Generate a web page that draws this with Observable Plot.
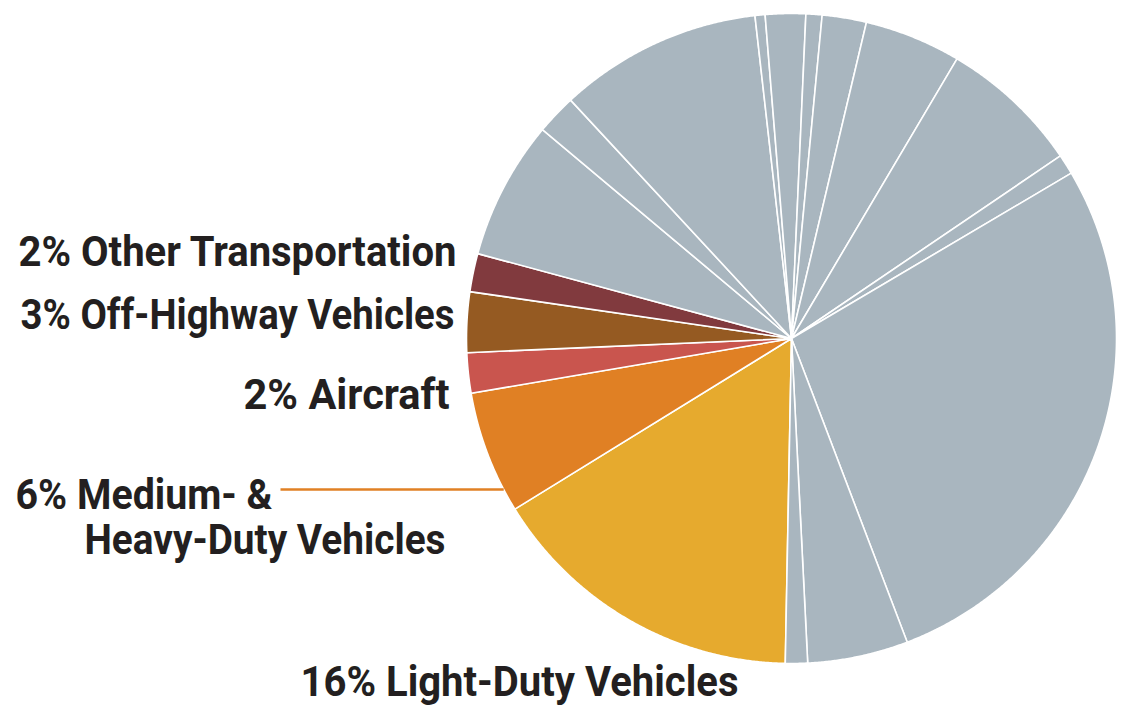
<!DOCTYPE html>
<html>
<head>
<meta charset="utf-8">
<script src="https://cdn.jsdelivr.net/npm/d3@7"></script>
<script src="https://cdn.jsdelivr.net/npm/@observablehq/plot@0.6"></script>
<style>
  html, body { margin: 0; padding: 0; background: #ffffff; }
</style>
</head>
<body>
<div id="chart"></div>
<script>
// ---- Data (clockwise, starting with Light-Duty Vehicles) ----
const sectors = [
  "Light-Duty Vehicles", "Medium- & Heavy-Duty Vehicles", "Aircraft",
  "Off-Highway Vehicles", "Other Transportation",
  "Other sector 1", "Other sector 2", "Other sector 3", "Other sector 4",
  "Other sector 5", "Other sector 6", "Other sector 7", "Other sector 8",
  "Other sector 9", "Other sector 10", "Other sector 11", "Other sector 12",
  "Other sector 13"
];
const shares = [
  15.9, 6.1, 2.0, 3.0, 1.9,
  6.9, 2.0, 10.1, 0.5, 2.0, 0.8, 2.2, 4.8, 7.0, 1.0, 27.7, 5.0, 1.1
];
const sliceColors = [
  "#e6aa2e", "#e08024", "#c9554e", "#955a22", "#813a3e",
  "#a9b6bf", "#a9b6bf", "#a9b6bf", "#a9b6bf", "#a9b6bf", "#a9b6bf",
  "#a9b6bf", "#a9b6bf", "#a9b6bf", "#a9b6bf", "#a9b6bf", "#a9b6bf", "#a9b6bf"
];
const labelTexts = [
  "2% Other Transportation",
  "3% Off-Highway Vehicles",
  "2% Aircraft",
  "6% Medium- &",
  "Heavy-Duty Vehicles",
  "16% Light-Duty Vehicles"
];

// ---- Layout ----
const W = 1131, H = 720;
const CX = 791, CY = 338, R = 325;          // pie centre / radius in px
const startDeg = 181.1;                      // clockwise from 12 o'clock
const px2x = px => (px - CX) / R;
const px2y = py => (CY - py) / R;

const pie = d3.pie().sort(null).value(d => d.share)
  .startAngle(startDeg * Math.PI / 180)
  .endAngle((startDeg + 360) * Math.PI / 180);
const table = sectors.map((s, i) => ({sector: s, share: shares[i], color: sliceColors[i]}));
const arcs = pie(table);

const pts = [];
arcs.forEach((a, i) => {
  pts.push({slice: i, x: 0, y: 0, color: a.data.color});
  const n = Math.max(2, Math.ceil((a.endAngle - a.startAngle) / (Math.PI / 720)));
  for (let k = 0; k <= n; k++) {
    const t = a.startAngle + (a.endAngle - a.startAngle) * k / n;
    pts.push({slice: i, x: Math.sin(t), y: Math.cos(t), color: a.data.color});
  }
});

// label placement (left/right px, centre-line px, rendered width px)
const labelLayout = [
  {x: 456, y: 252, anchor: "end",   w: 438},
  {x: 454, y: 315, anchor: "end",   w: 434},
  {x: 449, y: 395, anchor: "end",   w: 206},
  {x: 15,  y: 495, anchor: "start", w: 257},
  {x: 84,  y: 540, anchor: "start", w: 361},
  {x: 300, y: 682, anchor: "start", w: 438}
];
const labelRows = labelTexts.map((t, i) => ({
  text: t, x: px2x(labelLayout[i].x), y: px2y(labelLayout[i].y),
  anchor: labelLayout[i].anchor, w: labelLayout[i].w
}));
const leaderY = px2y(489);
const leader = [{x1: px2x(280), y1: leaderY, x2: -Math.sqrt(1 - leaderY * leaderY), y2: leaderY}];

const font = "Roboto, 'Noto Sans', sans-serif";
const chart = Plot.plot({
  width: W,
  height: H,
  margin: 0,
  x: {domain: [px2x(0), px2x(W)], axis: null},
  y: {domain: [px2y(H), px2y(0)], axis: null},
  color: {type: "identity"},
  style: {background: "#ffffff"},
  marks: [
    Plot.line(pts, {
      x: "x", y: "y", z: "slice", fill: "color",
      stroke: "#ffffff", strokeWidth: 1.6, strokeLinejoin: "round",
      curve: "linear-closed"
    }),
    Plot.link(leader, {x1: "x1", y1: "y1", x2: "x2", y2: "y2",
      stroke: sliceColors[1], strokeWidth: 2.5}),
    Plot.text(labelRows, {
      x: "x", y: "y", text: "text",
      textAnchor: "start",
      fontFamily: font, fontWeight: "bold", fontSize: 42, fill: "#231f20",
      className: "lbl"
    })
  ]
});
// condense labels to the reference's widths (condensed typeface look)
d3.select(chart).selectAll("g.lbl text").each(function(d, i) {
  const row = labelRows[d !== undefined && typeof d === "number" ? d : i];
  const el = d3.select(this);
  el.attr("textLength", row.w).attr("lengthAdjust", "spacingAndGlyphs");
  if (row.anchor === "end") {
    const t = el.attr("transform") || "";
    el.attr("transform", t + ` translate(${-row.w},0)`);
  }
});
document.getElementById("chart").append(chart);
</script>
</body>
</html>
